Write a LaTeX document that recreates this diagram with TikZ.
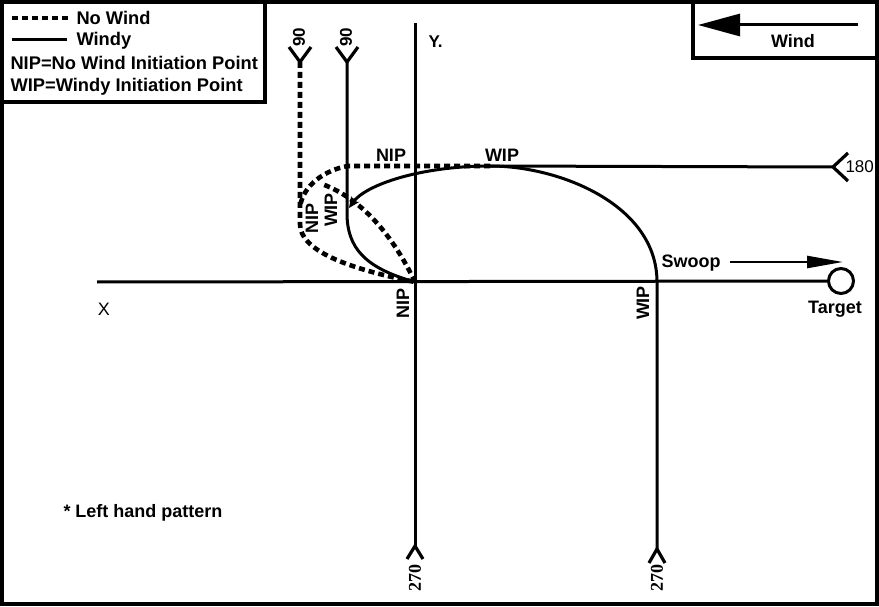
\documentclass[tikz,border=0pt]{standalone}
\usepackage{fontspec}
\setmainfont{Liberation Sans}
\newfontfamily\numserif{Liberation Serif}
\usetikzlibrary{arrows.meta}

\begin{document}
\begin{tikzpicture}[x=1pt,y=-1pt,line width=3pt,
  windy/.style={line width=3pt},
  nowind/.style={line width=4.6pt,dash pattern=on 6pt off 4pt},
  tail/.style={line width=3.2pt},
  box/.style={line width=3.5pt},
  lbl/.style={inner sep=0pt,font=\bfseries\fontsize{18}{20}\selectfont},
  key lbl/.style={lbl,font=\bfseries\fontsize{18.3}{21}\selectfont},
  up lbl/.style={lbl,rotate=90},
  deg/.style={inner sep=0pt,rotate=90,font=\bfseries\fontsize{17}{19}\selectfont},
  deg serif/.style={inner sep=0pt,rotate=90,font=\numserif\bfseries\fontsize{18}{20}\selectfont}]

  \useasboundingbox (0,0) rectangle (879,607);
  \draw[box] (2,2) rectangle (877,604);

  % legend
  \draw[box] (2,2) rectangle (265,102);
  \coordinate (lgna) at (12,18);
  \coordinate (lgnb) at (68,18);
  \coordinate (lgwa) at (12,40);
  \coordinate (lgwb) at (67,40);
  \draw[nowind] (lgna) -- (lgnb);
  \draw[windy] (lgwa) -- (lgwb);
  \node[key lbl,anchor=base west] (lgnw) at (75,25) {No Wind};
  \node[key lbl,anchor=base west] (lgw) at (75,46) {Windy};
  \node[key lbl,anchor=base west] (lgnip) at (9,70) {NIP=No Wind Initiation Point};
  \node[key lbl,anchor=base west] (lgwip) at (9,92) {WIP=Windy Initiation Point};

  % wind box
  \draw[box] (693,2) rectangle (877,58);
  \coordinate (winda) at (858,25);
  \coordinate (windb) at (698,25);
  \draw[-{Triangle[length=42pt,width=22pt]}] (winda) -- (windb);
  \node[lbl,anchor=base] (windlbl) at (793,48) {Wind};

  % axes
  \coordinate (o) at (415,282);
  \coordinate (ytop) at (415,23);
  \coordinate (ybot) at (415,546);
  \coordinate (xl) at (97,282);
  \node[circle,draw,line width=3pt,minimum size=25pt,inner sep=0pt] (target) at (841,281) {};
  \draw (xl) -- (target);
  \draw (ybot) -- (ytop);
  \node[lbl,font=\fontsize{18}{20}\selectfont,anchor=base] (xlbl) at (104,315) {X};
  \node[lbl,font=\bfseries\fontsize{17}{19}\selectfont,anchor=base west] (ylbl) at (427,48) {Y.};
  \node[lbl,anchor=base] (tgtlbl) at (835,313) {Target};

  % swoop
  \coordinate (swa) at (730,262);
  \coordinate (swb) at (843,262);
  \draw[line width=2.5pt,-{Triangle[length=36pt,width=12pt]}] (swa) -- (swb);
  \node[lbl,anchor=base] (swlbl) at (691,267) {Swoop};

  % windy pattern
  \coordinate (w90) at (347,62);
  \coordinate (wip90) at (347,213);
  \coordinate (w180) at (833,167);
  \coordinate (wip180) at (490,166);
  \coordinate (w270) at (657,549);
  \coordinate (wip270) at (657,282);
  \coordinate (wend) at (349,208);
  \draw[windy] (w90) -- (wip90) .. controls (347,248) and (365,268) .. (o);
  \draw[windy] (w180) -- (wip180);
  \draw[windy] (w270) -- (wip270) .. controls (657,205) and (560,166) .. (wip180);
  \draw[windy,-{Stealth[length=11pt,width=10pt]}] (wip180) .. controls (420,166) and (365,185) .. (wend);

  % no wind pattern
  \coordinate (n90) at (300,62);
  \coordinate (nip90) at (300,224);
  \coordinate (nip180) at (348,166);
  \coordinate (nmerge) at (322,184);
  \draw[nowind] (n90) -- (nip90) .. controls (300,250) and (345,268) .. (o);
  \draw[nowind] (wip180) -- (nip180) .. controls (325,170) and (303,185) .. (300,207);
  \draw[nowind] (o) .. controls (395,240) and (365,200) .. (nmerge);

  % entry tails
  \draw[tail] ([shift={(-11,-15)}]n90) -- (n90) -- ([shift={(11,-15)}]n90);
  \draw[tail] ([shift={(-11,-15)}]w90) -- (w90) -- ([shift={(11,-15)}]w90);
  \draw[tail] ([shift={(15,-14)}]w180) -- (w180) -- ([shift={(15,14)}]w180);
  \draw[tail] ([shift={(-8,13)}]ybot) -- (ybot) -- ([shift={(8,13)}]ybot);
  \draw[tail] ([shift={(-8,14)}]w270) -- (w270) -- ([shift={(8,14)}]w270);

  % headings
  \node[deg] (n90lbl) at (299,37) {90};
  \node[deg] (w90lbl) at (346,37) {90};
  \node[inner sep=0pt,font=\fontsize{17}{19}\selectfont,anchor=west] (w180lbl) at (844,167) {180};
  \node[deg serif] (o270lbl) at (415,578) {270};
  \node[deg serif] (w270lbl) at (657,578) {270};

  % initiation points
  \node[lbl,anchor=base] (niptop) at (391,162) {NIP};
  \node[lbl,anchor=base] (wiptop) at (502,162) {WIP};
  \node[up lbl] (nipleft) at (312,218) {NIP};
  \node[up lbl] (wipleft) at (331,210) {WIP};
  \node[up lbl] (nipo) at (403,303) {NIP};
  \node[up lbl] (wipo) at (643,303) {WIP};

  \node[lbl,anchor=base west] (note) at (62,517) {* Left hand pattern};
\end{tikzpicture}
\end{document}
